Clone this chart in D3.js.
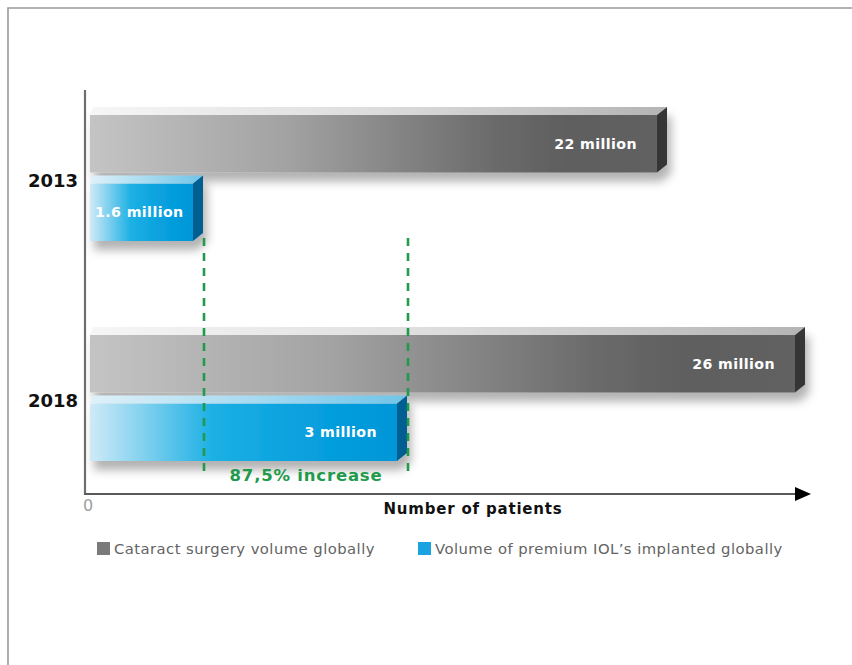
<!DOCTYPE html>
<html>
<head>
<meta charset="utf-8">
<script src="https://cdn.jsdelivr.net/npm/d3@7"></script>
<style>
  html, body { margin: 0; padding: 0; background: #fff; }
  svg { display: block; }
</style>
</head>
<body>
<svg id="chart" width="852" height="665"></svg>
<script>
// ---- data ----
const years = ["2013", "2018"];
const seriesKeys = ["cataract", "premium"];
const seriesNames = ["Cataract surgery volume globally", "Volume of premium IOL’s implanted globally"];
const cataractValues = [22, 26];      // million
const premiumValues = [1.6, 3];       // million
const valueLabels = { cataract: ["22 million", "26 million"], premium: ["1.6 million", "3 million"] };
const increaseLabel = "87,5% increase";
const xAxisTitle = "Number of patients";
const originLabel = "0";

// ---- layout ----
const svg = d3.select("#chart");
const x0 = 90;              // bar start
const axisX = 85, axisY = 494;
const depthX = 10, depthY = 8;

// The original graphic is not drawn to a common scale; each series has its own
// linear scale calibrated on its two bars.
const xCat = d3.scaleLinear().domain([22, 26]).range([657, 795]);
const xPrem = d3.scaleLinear().domain([1.6, 3]).range([193, 397]);
const xScales = { cataract: xCat, premium: xPrem };
const values = { cataract: cataractValues, premium: premiumValues };

const yYear = d3.scalePoint().domain(years).range([178, 398]);
const ySeries = d3.scaleBand().domain(seriesKeys).range([-63, 63]).paddingInner(0.16);

// ---- defs ----
const defs = svg.append("defs");
function lin(id, stops) {
  const g = defs.append("linearGradient").attr("id", id).attr("x1", 0).attr("x2", 1).attr("y1", 0).attr("y2", 0);
  stops.forEach(s => g.append("stop").attr("offset", s[0]).attr("stop-color", s[1]));
}
lin("catFront", [[0, "#c4c4c4"], [0.35, "#a2a2a2"], [0.72, "#6a6a6a"], [0.85, "#5e5e5e"], [1, "#626262"]]);
lin("catTop", [[0, "#f6f6f6"], [0.5, "#dcdcdc"], [1, "#b4b4b4"]]);
lin("premFront", [[0, "#cfeaf7"], [0.4, "#1cb0e4"], [0.7, "#08a0de"], [1, "#0096d8"]]);
lin("premTop", [[0, "#dff1f9"], [0.5, "#a8dbf1"], [1, "#70c4e8"]]);
const sideColor = { cataract: "#353535", premium: "#005f90" };
const frontFill = { cataract: "url(#catFront)", premium: "url(#premFront)" };
const topFill = { cataract: "url(#catTop)", premium: "url(#premTop)" };

const f = defs.append("filter").attr("id", "shadow").attr("x", "-10%").attr("y", "-30%").attr("width", "130%").attr("height", "180%");
f.append("feDropShadow").attr("dx", 4).attr("dy", 9).attr("stdDeviation", 5)
  .attr("flood-color", "#000").attr("flood-opacity", 0.3);

// ---- frame ----
svg.append("path").attr("d", "M8,665 L8,8 L852,8").attr("fill", "none")
  .attr("stroke", "#9a9a9a").attr("stroke-width", 1.6);

// ---- bars ----
const barsG = svg.append("g");
years.forEach((yr, i) => {
  seriesKeys.forEach(k => {
    const v = values[k][i];
    const x1 = xScales[k](v);
    const y = yYear(yr) + ySeries(k);
    const h = ySeries.bandwidth();
    const g = barsG.append("g").attr("filter", "url(#shadow)");
    g.append("rect").attr("x", x0).attr("y", y).attr("width", x1 - x0).attr("height", h).attr("fill", frontFill[k]);
    g.append("path").attr("d", `M${x0},${y} L${x0 + 3},${y - depthY} L${x1 + depthX},${y - depthY} L${x1},${y} Z`).attr("fill", topFill[k]);
    g.append("path").attr("d", `M${x1},${y} L${x1 + depthX},${y - depthY} L${x1 + depthX},${y + h - depthY} L${x1},${y + h} Z`).attr("fill", sideColor[k]);
  });
});

// ---- dashed comparison lines ----
premiumValues.forEach(v => {
  svg.append("line").attr("x1", xPrem(v) + depthX + 1).attr("x2", xPrem(v) + depthX + 1)
    .attr("y1", 238).attr("y2", 472)
    .attr("stroke", "#219a4b").attr("stroke-width", 2.6).attr("stroke-dasharray", "8,7");
});

// ---- value labels ----
years.forEach((yr, i) => {
  seriesKeys.forEach(k => {
    const v = values[k][i];
    const x1 = xScales[k](v);
    const y = yYear(yr) + ySeries(k) + ySeries.bandwidth() / 2;
    const short = (x1 - x0) < 140;
    svg.append("text")
      .attr("x", short ? x0 + 5 : x1 - 20)
      .attr("y", y)
      .attr("dy", "0.35em")
      .attr("text-anchor", short ? "start" : "end")
      .attr("fill", "#fff")
      .attr("font-family", "DejaVu Sans, sans-serif")
      .attr("font-weight", "bold")
      .attr("font-size", 14.2)
      .attr("letter-spacing", 0.4)
      .text(valueLabels[k][i]);
  });
});

// ---- increase label ----
svg.append("text")
  .attr("x", (xPrem(premiumValues[0]) + xPrem(premiumValues[1])) / 2 + depthX + 1)
  .attr("y", 475).attr("dy", "0.35em").attr("text-anchor", "middle")
  .attr("fill", "#219a4b").attr("font-family", "DejaVu Sans, sans-serif")
  .attr("font-weight", "bold").attr("font-size", 16.5).attr("letter-spacing", 0.8)
  .text(increaseLabel);

// ---- axes ----
svg.append("line").attr("x1", axisX).attr("x2", axisX).attr("y1", 90).attr("y2", axisY + 1)
  .attr("stroke", "#6e6e6e").attr("stroke-width", 2.2);
svg.append("line").attr("x1", axisX - 1).attr("x2", 797).attr("y1", axisY).attr("y2", axisY)
  .attr("stroke", "#5a5a5a").attr("stroke-width", 2.2);
svg.append("path").attr("d", `M795,${axisY - 7} L811,${axisY} L795,${axisY + 7} Z`).attr("fill", "#000");

svg.append("text").attr("x", 88).attr("y", 505).attr("dy", "0.35em").attr("text-anchor", "middle")
  .attr("fill", "#a0a0a0").attr("font-family", "DejaVu Sans, sans-serif").attr("font-size", 16)
  .text(originLabel);

svg.append("text").attr("x", 473).attr("y", 509).attr("dy", "0.35em").attr("text-anchor", "middle")
  .attr("fill", "#111").attr("font-family", "DejaVu Sans, sans-serif").attr("font-weight", "bold")
  .attr("font-size", 15).attr("letter-spacing", 0.8).text(xAxisTitle);

// year labels
years.forEach(yr => {
  svg.append("text").attr("x", 78).attr("y", yYear(yr) + 3).attr("dy", "0.35em").attr("text-anchor", "end")
    .attr("fill", "#111").attr("font-family", "DejaVu Sans, sans-serif").attr("font-weight", "bold")
    .attr("font-size", 18).text(yr);
});

// ---- legend ----
const legendX = [97, 418];
const legendColors = ["#7a7a7a", "#1aa3e0"];
seriesNames.forEach((name, i) => {
  svg.append("rect").attr("x", legendX[i]).attr("y", 542).attr("width", 13).attr("height", 13).attr("fill", legendColors[i]);
  svg.append("text").attr("x", legendX[i] + 17).attr("y", 549).attr("dy", "0.35em")
    .attr("fill", "#636363").attr("font-family", "DejaVu Sans, sans-serif").attr("font-size", 14.8)
    .attr("letter-spacing", 0.45)
    .text(name);
});
</script>
</body>
</html>
